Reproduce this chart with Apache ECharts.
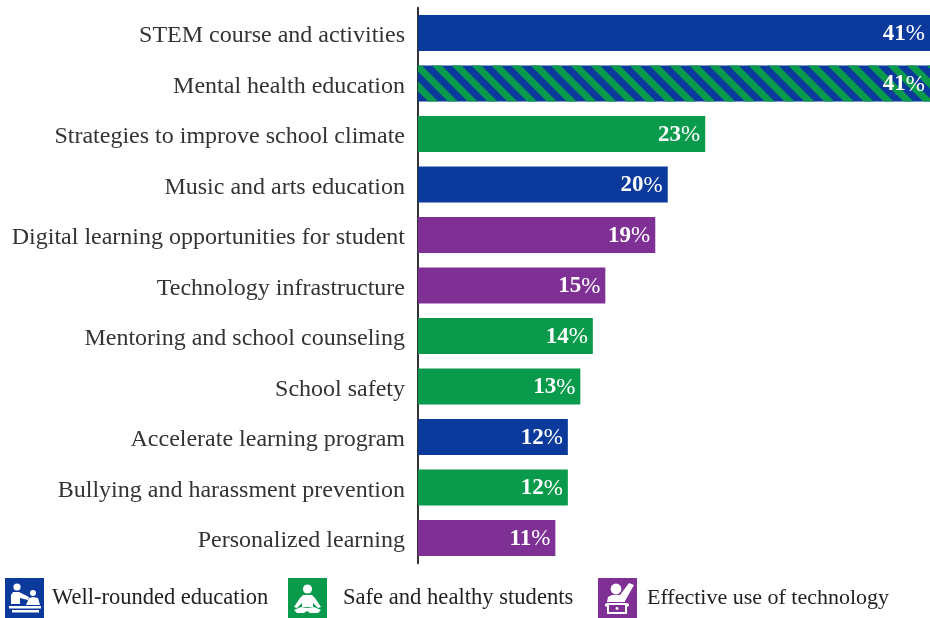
<!DOCTYPE html>
<html>
<head>
<meta charset="utf-8">
<style>html,body{margin:0;padding:0;background:#fff}#chart{width:930px;height:618px}</style>
<script src="https://cdn.jsdelivr.net/npm/echarts@6/dist/echarts.min.js"></script>
</head>
<body>
<div id="chart"></div>
<script>
const categories = ['STEM course and activities','Mental health education','Strategies to improve school climate','Music and arts education','Digital learning opportunities for student','Technology infrastructure','Mentoring and school counseling','School safety','Accelerate learning program','Bullying and harassment prevention','Personalized learning'];
const wellRounded = [41,41,null,20,null,null,null,null,12,null,null];
const safeHealthy = [null,null,23,null,null,null,14,13,null,12,null];
const technology = [null,null,null,null,19,15,null,null,null,null,11];
const groupNames = ['Well-rounded education','Safe and healthy students','Effective use of technology'];
const BLUE='#0b3a9c', GREEN='#0a9a4b', PURPLE='#7f3095';
const serif='"Liberation Serif"';

const valueLabel = {
  show:true, position:'insideRight', distance:5,
  formatter:p=>'{n|'+p.value+'}{p|%}',
  rich:{
    n:{fontFamily:serif,fontWeight:'bold',fontSize:23,color:'#fff',padding:[2,0,0,0]},
    p:{fontFamily:serif,fontWeight:'normal',fontSize:23,color:'#fff',padding:[2,0,0,0]}
  }
};
function barSeries(name,color,data){
  return {name,type:'bar',stack:'groups',barWidth:36,data,itemStyle:{color},label:valueLabel};
}
// The mental health bar counts for two groups, so it is striped in both colours
const blueData = wellRounded.map((v,i)=> i===1 ? {value:v,itemStyle:{color:BLUE,decal:{
  symbol:'rect',color:GREEN,dashArrayX:[1,0],dashArrayY:[7,7],rotation:Math.PI/4,symbolSize:1
}}} : v);

function legendAt(left,name,size,gap){
  return {left,top:578,padding:0,orient:'horizontal',data:[name],icon:'rect',itemWidth:39,itemHeight:40,itemGap:0,selectedMode:false,
    textStyle:{fontFamily:serif,fontSize:size,color:'#222',padding:[2,0,0,gap]}};
}
// White pictograms laid over the legend swatches
function glyph(x,y,children){
  return {type:'group',x,y,children:children.map(c=>Object.assign({silent:true,z:100},c))};
}
const white={fill:'#fff'};
const dot=(cx,cy,r)=>({type:'circle',shape:{cx,cy,r},style:white});
const shape=(d)=>({type:'polygon',shape:{points:d},style:white});
const pictograms=[
  glyph(5,578,[
    dot(12,9,3.6), dot(28,15,3),
    shape([[6,26],[6,17],[8,14],[14,14],[24,19],[23,22],[15,20],[15,26]]),
    shape([[21,27],[24,20],[28,19],[33,20],[35,27]]),
    {type:'rect',shape:{x:4,y:28,width:32,height:2.5},style:white},
    {type:'rect',shape:{x:7,y:32,width:27,height:2.5},style:white}
  ]),
  glyph(288,578,[
    dot(19.5,11,4.6),
    shape([[15,17],[24,17],[27,20],[33,29],[30,30],[25,25],[25,29],[14,29],[14,25],[9,30],[6,29],[12,20]]),
    shape([[6,32],[13,29],[19,30],[26,29],[33,32],[30,35],[22,35],[19,33],[16,35],[9,35]])
  ]),
  glyph(598,578,[
    dot(18,11,5.4),
    shape([[9,24],[10,19],[14,17],[22,17],[31,5],[36,7],[27,23],[27,24]]),
    shape([[7,26],[9,25],[29,25],[31,26],[31,28],[29,29],[29,36],[9,36],[9,29],[7,28]]),
    {type:'rect',shape:{x:11,y:27,width:16,height:7},style:{fill:PURPLE},z:101},
    Object.assign(dot(19,30.5,1.4),{z:102})
  ])
];

const chart = echarts.init(document.getElementById('chart'),null,{renderer:'canvas'});
chart.setOption({
  animation:false,
  aria:{enabled:false},
  grid:{left:418,top:7.75,width:512.5,height:555.5,containLabel:false},
  xAxis:{type:'value',min:0,max:41,show:false},
  yAxis:{type:'category',inverse:true,data:categories,
    axisLine:{show:true,lineStyle:{color:'#333',width:2}},
    axisTick:{show:false},
    axisLabel:{margin:13,formatter:v=>'{a|'+v+'}',
      rich:{a:{fontFamily:serif,fontSize:24,color:'#333',padding:[6,0,0,0]}}}},
  legend:[legendAt(5,groupNames[0],22.5,3),legendAt(288,groupNames[1],22.6,11),legendAt(598,groupNames[2],22,5)],
  graphic:{elements:pictograms},
  series:[barSeries(groupNames[0],BLUE,blueData),barSeries(groupNames[1],GREEN,safeHealthy),barSeries(groupNames[2],PURPLE,technology)]
});
</script>
</body>
</html>
